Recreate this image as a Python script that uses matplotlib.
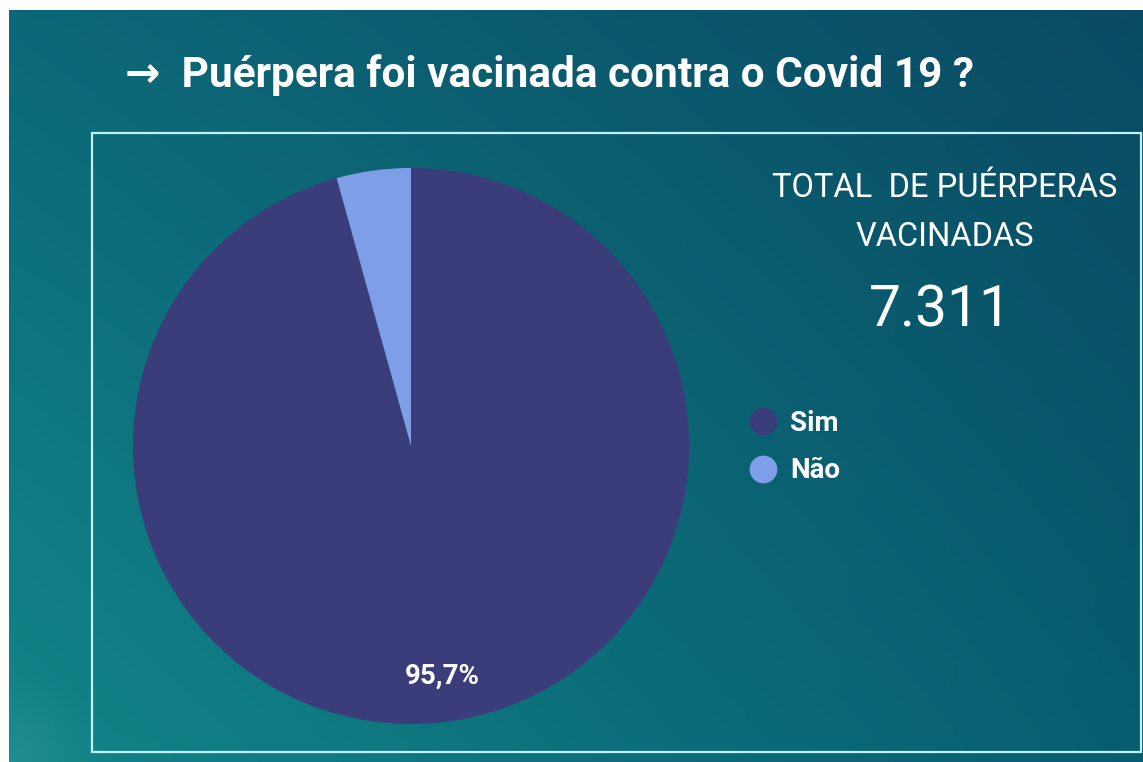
import numpy as np
import matplotlib
matplotlib.use("Agg")
import matplotlib.pyplot as plt
from matplotlib.lines import Line2D
from matplotlib.patches import Rectangle

# Data
categories = ["Sim", "Não"]
counts = [7311, 329]
slice_colors = ["#3b3c7a", "#7f9ee8"]
title = "→  Puérpera foi vacinada contra o Covid 19 ?"
kpi_lines = ["TOTAL  DE PUÉRPERAS", "VACINADAS"]
kpi_value = "7.311"

W, H = 1143, 762
fig = plt.figure(figsize=(W / 100, H / 100), dpi=100, facecolor="white")

# Gradient background panel
bg = fig.add_axes([9 / W, 0, 1 - 9 / W, (H - 10) / H])
bg.set_axis_off()
tl = np.array(matplotlib.colors.to_rgb("#0c6878"))
tr = np.array(matplotlib.colors.to_rgb("#0a4a63"))
bl = np.array(matplotlib.colors.to_rgb("#128689"))
br = np.array(matplotlib.colors.to_rgb("#075d70"))
ny, nx = 200, 300
u = np.linspace(0, 1, nx)[None, :, None]
v = np.linspace(0, 1, ny)[:, None, None]
img = (1 - v) * ((1 - u) * tl + u * tr) + v * ((1 - u) * bl + u * br)
# soft light glow in the lower-left corner
yy, xx = np.mgrid[0:ny, 0:nx]
d = np.hypot(xx / nx * 1.5, (ny - 1 - yy) / ny)
glow = np.clip(1 - d / 0.12, 0, 1)[..., None] * 0.15
img = img * (1 - glow) + glow * np.array([0.45, 0.72, 0.74])
bg.imshow(img, aspect="auto", extent=[0, 1, 0, 1], origin="upper")
bg.set_xlim(0, 1)
bg.set_ylim(0, 1)

# Frame around the chart area
fig.patches.append(Rectangle((92 / W, (H - 752) / H), (1141 - 92) / W, (752 - 133) / H,
                             transform=fig.transFigure, fill=False,
                             edgecolor="#c0f2f3", linewidth=1.6))

fonts = ["Roboto", "DejaVu Sans"]
fig.text(125 / W, 1 - 75 / H, title, color="white", fontsize=30.5,
         fontweight="bold", family=fonts, va="center", ha="left")

# Pie
cx, cy, r = 411, 446, 278
ax = fig.add_axes([(cx - r) / W, (H - cy - r) / H, 2 * r / W, 2 * r / H])


def fmt(p):
    return f"{p:.1f}%".replace(".", ",") if p > 10 else ""


wedges, texts, autotexts = ax.pie(counts, colors=slice_colors, startangle=90,
                                  counterclock=False, autopct=fmt,
                                  pctdistance=0.835,
                                  wedgeprops=dict(linewidth=0),
                                  textprops=dict(color="white", fontsize=20,
                                                 fontweight="bold", family=fonts))
ax.set_xlim(-1, 1)
ax.set_ylim(-1, 1)
ax.set_aspect("equal")

# KPI text
fig.text(945 / W, 1 - 188 / H, kpi_lines[0], color="white", fontsize=23.5,
         family=fonts, ha="center", va="center")
fig.text(945 / W, 1 - 237 / H, kpi_lines[1], color="white", fontsize=23.5,
         family=fonts, ha="center", va="center")
fig.text(940 / W, 1 - 311 / H, kpi_value, color="white", fontsize=41,
         family=fonts, ha="center", va="center")

# Legend
handles = [Line2D([], [], marker="o", linestyle="", markersize=20,
                  markerfacecolor=c, markeredgewidth=0) for c in slice_colors]
leg = fig.legend(handles, categories, loc="center left",
                 bbox_to_anchor=(721 / W, 1 - 447 / H), frameon=False,
                 handletextpad=0.4, labelspacing=0.75, handlelength=1.2,
                 prop=dict(family=fonts, weight="bold", size=20))
for t in leg.get_texts():
    t.set_color("white")

fig.savefig("out.png", dpi=100, facecolor=fig.get_facecolor())
